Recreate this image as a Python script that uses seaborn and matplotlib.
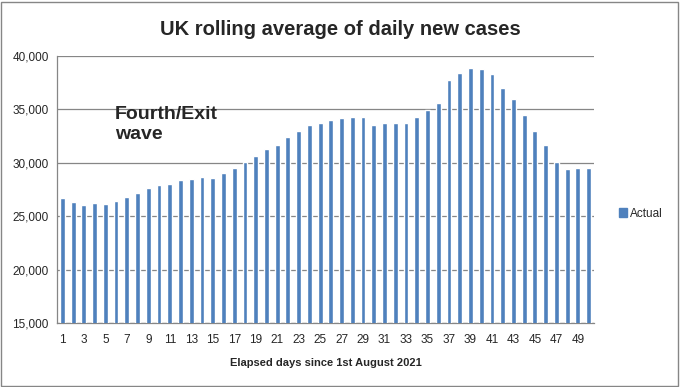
import matplotlib
matplotlib.use("Agg")
import matplotlib.pyplot as plt
import matplotlib.patches as mpatches
from matplotlib.ticker import FuncFormatter, FixedLocator
import seaborn as sns
import pandas as pd

# data
days = list(range(1, 51))
actual = [
    26750, 26340, 26060, 26250, 26190, 26470, 26840, 27190, 27660, 27940,
    28030, 28400, 28530, 28720, 28590, 29060, 29560, 30125, 30690, 31340,
    31720, 32470, 32940, 33500, 33780, 34060, 34160, 34250, 34340, 33590,
    33780, 33780, 33690, 34250, 34970, 35560, 37720, 38440, 38910, 38810,
    38280, 37030, 36000, 34500, 32940, 31690, 30090, 29470, 29560, 29560,
]
tick_days = [str(d) for d in days if d % 2 == 1]

df = pd.DataFrame({"day": [str(d) for d in days], "cases": actual})

sns.set_style("white")
plt.rcParams['font.family'] = ['Liberation Sans', 'DejaVu Sans']

fig = plt.figure(figsize=(6.8, 3.87), dpi=100)
ax = fig.add_axes([0.0838, 0.1646, 0.7897, 0.6907])

bar_col = "#4F81BD"
sns.barplot(data=df, x="day", y="cases", color=bar_col, width=0.45,
            saturation=1, ax=ax, zorder=3)

ax.set_ylim(15000, 40000)
ax.set_xlim(-0.5, len(days) - 0.5)
ax.set_yticks(range(15000, 40001, 5000))
ax.yaxis.set_major_formatter(FuncFormatter(lambda v, p: f"{int(v):,}"))
ax.grid(axis="y", color="#868686", linewidth=0.9, zorder=0)

# odd labels, tick marks between categories
ax.set_xticks([i for i, d in enumerate(days) if d % 2 == 1])
ax.set_xticklabels(tick_days)
ax.xaxis.set_minor_locator(FixedLocator([i - 0.5 for i in range(len(days) + 1)]))
ax.tick_params(axis="x", which="major", length=0, pad=8, labelsize=8.5)
ax.tick_params(axis="x", which="minor", length=4, color="#868686", direction="out")
ax.tick_params(axis="y", length=4, color="#868686", direction="out", labelsize=8.5, pad=2)

for s in ["top", "right"]:
    ax.spines[s].set_visible(False)
for s in ["left", "bottom"]:
    ax.spines[s].set_color("#868686")
    ax.spines[s].set_linewidth(0.9)

ax.set_xlabel("Elapsed days since 1st August 2021", fontsize=8, fontweight="bold", labelpad=8)
ax.set_ylabel("")

fig.text(0.5, 0.925, "UK rolling average of daily new cases", ha="center", va="center",
         fontsize=14.5, fontweight="bold")

ax.text(4.9, 35300, "Fourth/Exit\nwave", fontsize=14, fontweight="bold",
        ha="left", va="top", linespacing=1.2)

handle = mpatches.Patch(color=bar_col, label="Actual")
fig.legend(handles=[handle], loc="center left", bbox_to_anchor=(0.895, 0.448),
           frameon=False, fontsize=8.5, handlelength=0.7, handleheight=0.7,
           handletextpad=0.2)

# chart area border
fig.patches.append(mpatches.Rectangle((0.002, 0.003), 0.995, 0.993, transform=fig.transFigure,
                                      fill=False, edgecolor="#868686", linewidth=1))

fig.savefig("out.png", dpi=100)
